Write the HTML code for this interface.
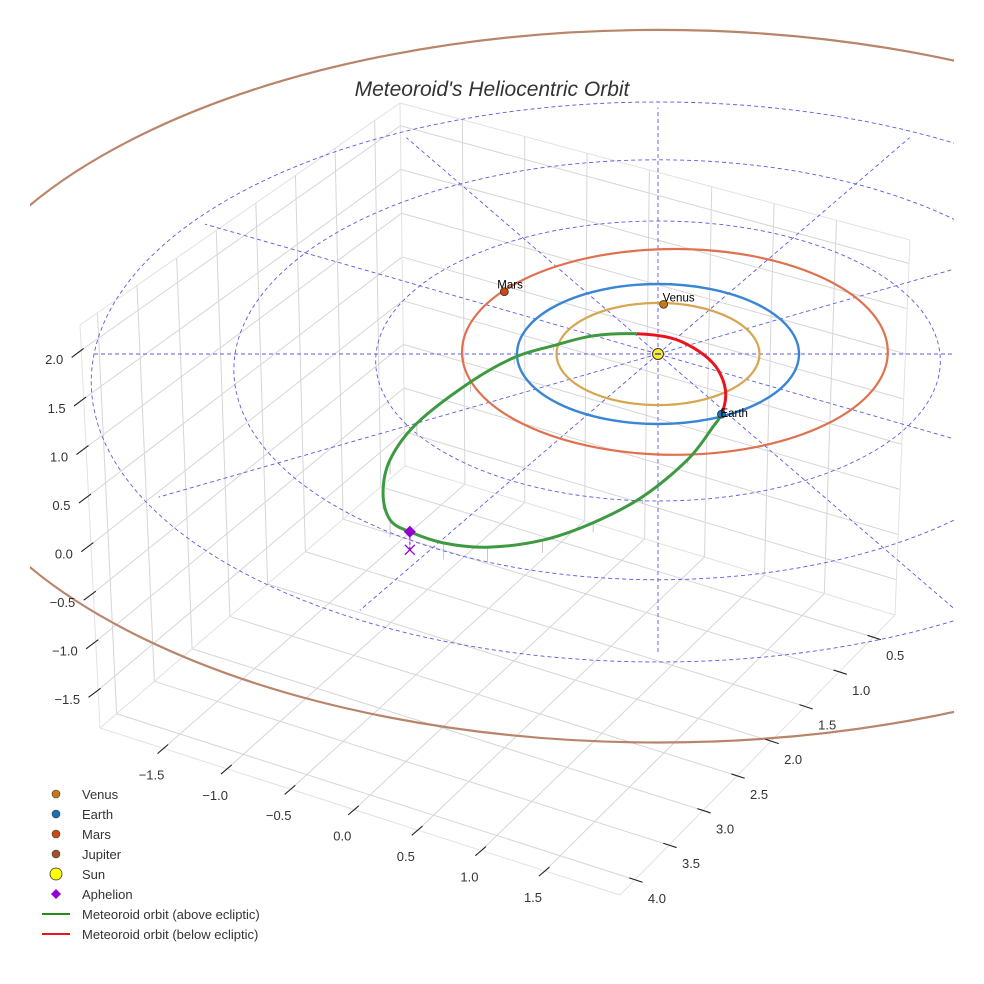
<!DOCTYPE html>
<html><head><meta charset="utf-8"><style>
html,body{margin:0;padding:0;background:#fff;}
svg{display:block;font-family:"Liberation Sans",sans-serif;}
</style></head><body>
<svg id="chart" width="984" height="984" viewBox="0 0 984 984" xmlns="http://www.w3.org/2000/svg">
<defs><clipPath id="clipArea"><rect x="30" y="0" width="924" height="984"/></clipPath></defs>
<g id="grid"></g>
<g id="eclip" clip-path="url(#clipArea)"></g>
<g id="ticks"></g>
<text x="492" y="96" text-anchor="middle" font-size="21" font-style="italic" fill="#333">Meteoroid's Heliocentric Orbit</text>
<g id="legend"></g>
</svg>
<script>
// ---- axis data ----
const xTicks = [-1.5,-1.0,-0.5,0.0,0.5,1.0,1.5];
const yTicks = [0.5,1.0,1.5,2.0,2.5,3.0,3.5,4.0];
const zTicks = [-1.5,-1.0,-0.5,0.0,0.5,1.0,1.5,2.0];
const xLim = [-2.0,2.09], yLim=[0.18,4.22], zLim=[-1.89,2.26];
// ---- ecliptic data (AU, view frame) ----
const gridRings = [2,3,4];
const radialAngles = [30,60,90,120,150,210,240,270,300,330];
const venusOrbit = {cu:0, cv:0, a:0.72, b:0.73};
const earthOrbit = {cu:0, cv:0, a:1.0, b:1.0};
const marsOrbit = {cu:0.12, cv:-0.03, a:1.51, b:1.47};
const jupiterOrbit = {cu:0, cv:0.46, a:5.17, b:5.09};
const planetNames = ["Venus","Earth","Mars"];
const planetU = [0.04,0.45,-1.09];
const planetV = [-0.71,0.86,-0.89];
const orbitU = [-0.15,-0.46,-0.74,-1.02,-1.33,-1.71,-1.90,-1.95,-1.90,-1.76,-1.52,-1.21,-0.82,-0.46,-0.11,0.21,0.39,0.45,0.48,0.46,0.39,0.25,0.09];
const orbitV = [-0.29,-0.26,-0.12,0.05,0.40,0.99,1.51,1.99,2.37,2.54,2.70,2.76,2.66,2.41,2.04,1.51,1.04,0.86,0.61,0.37,0.13,-0.09,-0.23];
const orbitZ = [0.02,0.03,0.05,0.07,0.1,0.13,0.15,0.17,0.18,0.18,0.17,0.16,0.13,0.1,0.07,0.04,0.02,0,0,0,0,0,0];
const aphelionIdx = 9;

const NS="http://www.w3.org/2000/svg";
function mk(tag, attrs, parent){const e=document.createElementNS(NS,tag);for(const k in attrs)e.setAttribute(k,attrs[k]);parent.appendChild(e);return e;}
const SX=658, SY=354, KU=141, KV=70, PERSP=0.025;
function eu(u){return SX+KU*u;}
function ev(v){return SY+KV*v;}
function pu(u,v){return SX+KU*u*(1+PERSP*v);}
function pv(v){return SY+KV*v*(1+PERSP*v);}
const FL=[100,728],FR=[620,895],RB=[895,615],BL=[405,466],TFL=[80,325],TBL=[400,103],TRB=[910,240];
function lerp(a,b,t){return [a[0]+(b[0]-a[0])*t,a[1]+(b[1]-a[1])*t];}
function tx(x){return (x-xLim[0])/(xLim[1]-xLim[0]);}
function ty(y){return (yLim[1]-y)/(yLim[1]-yLim[0]);}
function tz(z){return (z-zLim[0])/(zLim[1]-zLim[0]);}

const grid=document.getElementById('grid');
function gline(p,q,col,w){const l=mk('line',{x1:p[0],y1:p[1],x2:q[0],y2:q[1],stroke:col,'stroke-width':w},grid);

}
const GC="#d6d6d6";
xTicks.forEach(x=>{const t=tx(x);gline(lerp(FL,FR,t),lerp(BL,RB,t),GC,1);});
yTicks.forEach(y=>{const s=ty(y);gline(lerp(FL,BL,s),lerp(FR,RB,s),GC,1);});
yTicks.forEach(y=>{const s=ty(y);gline(lerp(FL,BL,s),lerp(TFL,TBL,s),GC,1);});
zTicks.forEach(z=>{const w=tz(z);gline(lerp(FL,TFL,w),lerp(BL,TBL,w),GC,1);});
xTicks.forEach(x=>{const t=tx(x);gline(lerp(BL,RB,t),lerp(TBL,TRB,t),GC,1);});
zTicks.forEach(z=>{const w=tz(z);gline(lerp(BL,TBL,w),lerp(RB,TRB,w),GC,1);});
const EC="#e2e2e2";
[[FL,FR],[FR,RB],[FL,TFL],[TFL,TBL],[TBL,TRB],[RB,TRB],[FL,BL],[BL,RB],[BL,TBL]].forEach(e=>gline(e[0],e[1],EC,1));

const tk=document.getElementById('ticks');
function tline(p,d,len){const l=mk('line',{x1:p[0],y1:p[1],x2:p[0]+d[0]*len,y2:p[1]+d[1]*len,stroke:'#222','stroke-width':1.1},tk);

}
function lab(txt,x,y,anchor,name){const t=mk('text',{x:x,y:y,'text-anchor':anchor,'font-size':13,fill:'#333'},tk);t.textContent=txt;

}
function fmt(v){return (v<0?'\u2212':'')+Math.abs(v).toFixed(1);}
xTicks.forEach(x=>{const p=lerp(FL,FR,tx(x));tline(p,[-0.76,0.65],-6);tline(p,[-0.76,0.65],8);lab(fmt(x),p[0]-12,p[1]+31,'middle','x-tick-label');});
yTicks.forEach(y=>{const p=lerp(FR,RB,ty(y));tline(p,[0.95,0.31],-6);tline(p,[0.95,0.31],8);lab(fmt(y),p[0]+22,p[1]+23,'middle','y-tick-label');});
zTicks.forEach(z=>{const p=lerp(FL,TFL,tz(z));tline(p,[-0.8,0.6],-3);tline(p,[-0.8,0.6],12);lab(fmt(z),p[0]-18,p[1]+14,'end','z-tick-label');});

const ec=document.getElementById('eclip');
function ell(o,col,w,name){const e=mk('ellipse',{cx:eu(o.cu),cy:ev(o.cv),rx:KU*o.a,ry:KV*o.b,fill:'none',stroke:col,'stroke-width':w},ec);

}
gridRings.forEach(r=>{let d='';for(let k=0;k<=180;k++){const a=k*2*Math.PI/180;const u=r*Math.cos(a),v=r*Math.sin(a);d+=(k?'L':'M')+pu(u,v).toFixed(1)+','+pv(v).toFixed(1);}
const p=mk('path',{d:d,fill:'none',stroke:'#5b5be0','stroke-width':0.9,'stroke-dasharray':'4,3'},ec);

});
radialAngles.forEach(a=>{const rad=a*Math.PI/180,R=3.9;const u=R*Math.cos(rad),v=-R*Math.sin(rad);
const l=mk('line',{x1:eu(0),y1:ev(0),x2:pu(u,v),y2:pv(v),stroke:'#5b5be0','stroke-width':0.9,'stroke-dasharray':'4,3'},ec);

});
{const l=mk('line',{x1:eu(-4),y1:ev(0),x2:eu(5),y2:ev(0),stroke:'#5b5be0','stroke-width':0.9,'stroke-dasharray':'4,3'},ec);

}
ell(jupiterOrbit,'#b8856a',2.2,'jupiter-orbit');
ell(marsOrbit,'#e0714f',2.2,'mars-orbit');
ell(earthOrbit,'#3a86d4',2.4,'earth-orbit');
ell(venusOrbit,'#d6a650',2.2,'venus-orbit');

orbitU.forEach((u,i)=>{if(orbitZ[i]<=0.005)return;const x=eu(u),y=ev(orbitV[i]);
const l=mk('line',{x1:x,y1:y,x2:x,y2:y+orbitZ[i]*97,stroke:'#b0b0b0','stroke-width':0.7},ec);

});

function catmull(idx){let d='';const n=orbitU.length;
const P=k=>{k=(k+n)%n;return [eu(orbitU[k]),ev(orbitV[k])];};
for(let j=0;j<idx.length-1;j++){const i=idx[j];const p0=P(i-1),p1=P(i),p2=P(i+1),p3=P(i+2);
if(j===0)d+='M'+p1[0]+','+p1[1];
d+=' C'+(p1[0]+(p2[0]-p0[0])/6)+','+(p1[1]+(p2[1]-p0[1])/6)+' '+(p2[0]-(p3[0]-p1[0])/6)+','+(p2[1]-(p3[1]-p1[1])/6)+' '+p2[0]+','+p2[1];}
return d;}
const n=orbitU.length;
const greenIdx=[];for(let i=0;i<=17;i++)greenIdx.push(i);
const redIdx=[];for(let i=17;i<n;i++)redIdx.push(i);redIdx.push(0);
{const p=mk('path',{d:catmull(greenIdx),fill:'none',stroke:'#3d9a40','stroke-width':3},ec);

}
{const p=mk('path',{d:catmull(redIdx),fill:'none',stroke:'#e8141e','stroke-width':3},ec);

}

const pCols=['#c87a10','#1f6fb4','#cc4a10'];
planetNames.forEach((nm,i)=>{const x=eu(planetU[i]),y=ev(planetV[i]);
const c=mk('circle',{cx:x,cy:y,r:4,fill:pCols[i],stroke:'#222','stroke-width':0.7},ec);


const t=mk('text',{x:x-(i===2?7:1),y:y-(i===1?-3:3),'font-size':11.5,fill:'#000'},ec);t.textContent=nm;

});
{const c=mk('circle',{cx:eu(0),cy:ev(0),r:5.5,fill:'#ffee22',stroke:'#333','stroke-width':1},ec);


const s=mk('line',{x1:eu(0)-3,y1:ev(0),x2:eu(0)+3,y2:ev(0),stroke:'#4444cc','stroke-width':1.5},ec);

}
{const ax=eu(orbitU[aphelionIdx]),ay=ev(orbitV[aphelionIdx]);
const dl=mk('line',{x1:ax,y1:ay,x2:ax,y2:ay+18,stroke:'#9400d3','stroke-width':1,'stroke-dasharray':'3,2'},ec);


const dm=mk('path',{d:`M${ax},${ay-6} L${ax+6},${ay} L${ax},${ay+6} L${ax-6},${ay} Z`,fill:'#9400d3'},ec);


const xm=mk('path',{d:`M${ax-5},${ay+13} L${ax+5},${ay+23} M${ax+5},${ay+13} L${ax-5},${ay+23}`,stroke:'#9400d3','stroke-width':1.3},ec);

}

const lg=document.getElementById('legend');
const legLabels=['Venus','Earth','Mars','Jupiter','Sun','Aphelion','Meteoroid orbit (above ecliptic)','Meteoroid orbit (below ecliptic)'];
const legKinds=['dot','dot','dot','dot','sun','diamond','line','line'];
const legCols=['#c87a10','#1f6fb4','#cc4a10','#a0522d','#ffff00','#9400d3','#228b22','#e8141e'];
legLabels.forEach((t,i)=>{const y=794+i*20;const g=mk('g',{},lg);


const k=legKinds[i];
if(k==='dot')mk('circle',{cx:56,cy:y,r:4,fill:legCols[i],stroke:'#333','stroke-width':0.6},g);
else if(k==='sun')mk('circle',{cx:56,cy:y,r:6,fill:legCols[i],stroke:'#333','stroke-width':0.8},g);
else if(k==='diamond')mk('path',{d:`M56,${y-5} L61,${y} L56,${y+5} L51,${y} Z`,fill:legCols[i]},g);
else mk('line',{x1:42,y1:y,x2:70,y2:y,stroke:legCols[i],'stroke-width':2},g);
const tt=mk('text',{x:82,y:y+5,'font-size':13,fill:'#333'},g);tt.textContent=t;});
</script>
</body></html>
